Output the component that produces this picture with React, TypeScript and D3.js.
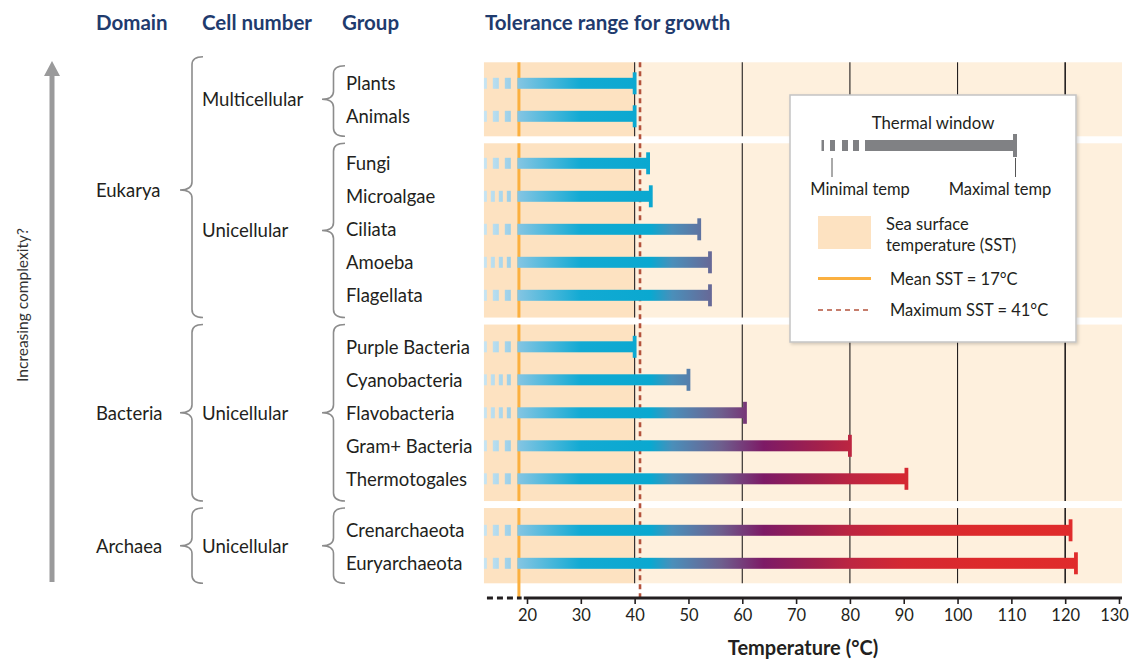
import React, { useEffect, useRef } from "react";
import * as d3 from "d3";

// ---------- DATA ----------
const groups = [
  "Plants", "Animals", "Fungi", "Microalgae", "Ciliata", "Amoeba", "Flagellata",
  "Purple Bacteria", "Cyanobacteria", "Flavobacteria", "Gram+ Bacteria", "Thermotogales",
  "Crenarchaeota", "Euryarchaeota",
];
const maxTemps = [40, 40, 42.5, 43, 52, 54, 54, 40, 50, 60.5, 80, 90.5, 121, 122];
const dashCounts = [3, 3, 3, 4, 3, 4, 3, 3, 4, 4, 3, 3, 3, 3];
const rowBand = [0, 0, 1, 1, 1, 1, 1, 2, 2, 2, 2, 2, 3, 3];
const bandCell = ["Multicellular", "Unicellular", "Unicellular", "Unicellular"];
const bandDomain = [0, 0, 1, 2];
const domains = ["Eukarya", "Bacteria", "Archaea"];
const headers = ["Domain", "Cell number", "Group", "Tolerance range for growth"];
const xTicks = [20, 30, 40, 50, 60, 70, 80, 90, 100, 110, 120, 130];
const gridTemps = [40, 60, 80, 100, 120];
const sstUpper = 40; // shaded SST zone upper bound
const meanSST = 17;
const meanSSTPlotted = 18.5; // axis is broken below 20
const maxSST = 41;
const brokenStart = 12; // left edge of the broken axis region
const solidStart = 18.2;

// ---------- LAYOUT ----------
const W = 1129, H = 661;
const FONT = "Lato, 'Open Sans', sans-serif";
const x = d3.scaleLinear().domain([20, 130]).range([527, 1119]);
const plotLeft = x(brokenStart);
const plotRight = 1122;
const axisY = 598;

const y0 = 83.3, step = 33, cellGap = 14, domainGap = 18.5;
const rowY: number[] = [];
{
  let acc = y0;
  groups.forEach((_, i) => {
    if (i > 0) {
      acc += step;
      if (rowBand[i] !== rowBand[i - 1]) {
        acc += bandDomain[rowBand[i]] !== bandDomain[rowBand[i - 1]] ? domainGap : cellGap;
      }
    }
    rowY.push(acc);
  });
}
const nBands = bandCell.length;
const bandRows = d3.range(nBands).map((b) => d3.range(groups.length).filter((i) => rowBand[i] === b));
const bands = bandRows.map((rows, b) => {
  const first = rowY[rows[0]], last = rowY[rows[rows.length - 1]];
  const top = b === 0 ? first - 21 : (rowY[bandRows[b - 1][bandRows[b - 1].length - 1]] + first) / 2 + 3.5;
  const bottom = b === nBands - 1 ? last + 20 : (last + rowY[bandRows[b + 1][0]]) / 2 - 3.5;
  return { top, bottom, mid: (top + bottom) / 2 };
});

const gradStops: [number, string][] = [
  [12, "#c8e5f3"], [18.0, "#92cbe6"], [18.3, "#84c5e3"], [30, "#12aad3"], [43, "#0aa8d0"],
  [47, "#4a8fba"], [56, "#6e5f8e"], [64, "#7d1a66"], [74, "#a2204c"], [80, "#bc2541"],
  [90, "#d42832"], [105, "#dd2a2b"], [130, "#e12c2c"],
];

function bracePath(xEnd: number, xSpine: number, xTip: number, top: number, bot: number, mid: number) {
  const r = 8;
  return `M${xEnd},${top} Q${xSpine},${top} ${xSpine},${top + r} L${xSpine},${mid - r} Q${xSpine},${mid} ${xTip},${mid} Q${xSpine},${mid} ${xSpine},${mid + r} L${xSpine},${bot - r} Q${xSpine},${bot} ${xEnd},${bot}`;
}

function dashes(n: number) {
  const end = x(solidStart) - 6.5;
  const p = n === 3 ? 12 : 8;
  const len = n === 3 ? 6 : 4;
  return d3.range(n).map((k) => {
    const e = end - (n - 1 - k) * p;
    const s = Math.max(plotLeft, e - len);
    return [s, e];
  });
}

export default function App() {
  const axisRef = useRef<SVGGElement>(null);
  useEffect(() => {
    if (!axisRef.current) return;
    const g = d3.select(axisRef.current);
    g.call(d3.axisBottom(x).tickValues(xTicks).tickSize(6).tickSizeOuter(0).tickPadding(5).tickFormat(d3.format("d")) as any);
    g.select(".domain").remove();
    g.selectAll(".tick line").attr("stroke", "#231f20").attr("stroke-width", 1.6);
    g.selectAll(".tick text").attr("fill", "#231f20").style("font-size", "16.5px").style("font-family", FONT);
    g.selectAll<SVGTextElement, number>(".tick text").filter((d) => d === xTicks[xTicks.length - 1]).attr("dx", -5);
  }, []);

  const gTop = bands[0].top;
  const textCol = "#231f20";
  const headCol = "#1f3b6e";
  const braceCol = "#8c8c8c";
  const headerX = [96, 202, 342, 485];

  return (
    <svg width={W} height={H} style={{ position: "absolute", left: 0, top: 0, background: "#fff" }} fontFamily={FONT}>
      <defs>
        <linearGradient id="barGrad" gradientUnits="userSpaceOnUse" x1={plotLeft} x2={plotRight} y1={0} y2={0}>
          {gradStops.map(([t, c], i) => (
            <stop key={i} offset={(x(t) - plotLeft) / (plotRight - plotLeft)} stopColor={c} />
          ))}
        </linearGradient>
        <filter id="shadow" x="-5%" y="-5%" width="115%" height="115%">
          <feDropShadow dx={1.5} dy={1.5} stdDeviation={1.5} floodColor="#000" floodOpacity={0.18} />
        </filter>
      </defs>

      {/* headers */}
      {headers.map((h, i) => (
        <text key={h} x={headerX[i]} y={29.5} fontWeight={700} fontSize={20.5} fill={headCol}>{h}</text>
      ))}

      {/* complexity arrow */}
      <line x1={52} x2={52} y1={74} y2={582} stroke="#9a9a9b" strokeWidth={5} />
      <path d="M52,61 L60,76 L44,76 Z" fill="#9a9a9b" />
      <text transform="translate(22,305) rotate(-90)" textAnchor="middle" fontSize={15.5} fill="#333" dominantBaseline="central">Increasing complexity?</text>

      {/* bands */}
      {bands.map((b, i) => (
        <g key={i}>
          <rect x={plotLeft} y={b.top} width={x(sstUpper) - plotLeft} height={b.bottom - b.top} fill="#fde2c1" />
          <rect x={x(sstUpper)} y={b.top} width={plotRight - x(sstUpper)} height={b.bottom - b.top} fill="#fef0dd" />
          {gridTemps.map((t) => (
            <line key={t} x1={x(t)} x2={x(t)} y1={b.top} y2={b.bottom} stroke="#231f20" strokeWidth={t === 120 ? 1.6 : 1.1} />
          ))}
          <line x1={x(meanSSTPlotted)} x2={x(meanSSTPlotted)} y1={b.top} y2={i === nBands - 1 ? axisY : b.bottom} stroke="#fbb040" strokeWidth={3} />
        </g>
      ))}
      <line x1={x(maxSST)} x2={x(maxSST)} y1={gTop} y2={axisY} stroke="#b4533c" strokeWidth={2.6} strokeDasharray="5 4" />

      {/* bars */}
      {groups.map((g, i) => {
        const yc = rowY[i];
        const xe = x(maxTemps[i]);
        return (
          <g key={g}>
            {dashes(dashCounts[i]).map(([s, e], k) => (
              <rect key={k} x={s} y={yc - 5.5} width={e - s} height={11} fill="url(#barGrad)" />
            ))}
            <rect x={x(solidStart)} y={yc - 5.5} width={xe - x(solidStart)} height={11} fill="url(#barGrad)" />
            <rect x={xe - 1.9} y={yc - 11} width={3.8} height={22} fill="url(#barGrad)" />
          </g>
        );
      })}

      {/* axis */}
      <line x1={plotLeft + 3} x2={x(19)} y1={axisY} y2={axisY} stroke="#231f20" strokeWidth={3} strokeDasharray="6 4" />
      <line x1={x(19.4)} x2={plotRight} y1={axisY} y2={axisY} stroke="#231f20" strokeWidth={3} />
      <g ref={axisRef} transform={`translate(0,${axisY})`} />
      <text x={803} y={655} textAnchor="middle" fontWeight={700} fontSize={20} fill={textCol}>Temperature (°C)</text>

      {/* group labels */}
      {groups.map((g, i) => (
        <text key={g} x={346} y={rowY[i]} dominantBaseline="central" fontSize={18.5} fill={textCol}>{g}</text>
      ))}

      {/* cell number braces + labels */}
      {bands.map((b, i) => (
        <g key={i}>
          <path d={bracePath(345, 333.5, 322, i === 0 ? b.top + 3.5 : b.top, b.bottom, b.mid)} fill="none" stroke={braceCol} strokeWidth={1.6} />
          <text x={202} y={b.mid} dominantBaseline="central" fontSize={18.6} fill={textCol}>{bandCell[i]}</text>
        </g>
      ))}

      {/* domain braces + labels */}
      {domains.map((d, di) => {
        const bs = bands.filter((_, bi) => bandDomain[bi] === di);
        const top = di === 0 ? bs[0].top - 5.5 : bs[0].top;
        const bot = bs[bs.length - 1].bottom;
        const mid = di === 0 ? (bs[0].top + bot) / 2 : (top + bot) / 2;
        return (
          <g key={d}>
            <path d={bracePath(203, 192, 180, top, bot, mid)} fill="none" stroke={braceCol} strokeWidth={1.6} />
            <text x={96} y={mid} dominantBaseline="central" fontSize={18.5} fill={textCol}>{d}</text>
          </g>
        );
      })}

      {/* legend */}
      <g>
        <rect x={790} y={95} width={286} height={247} fill="#fff" stroke="#c4c4c4" strokeWidth={1.5} filter="url(#shadow)" />
        <text x={933} y={129} textAnchor="middle" fontSize={16.8} fill={textCol}>Thermal window</text>
        {[[821.5, 824], [830, 835], [842, 848], [853, 859]].map(([s, e], k) => (
          <rect key={k} x={s} y={140} width={e - s} height={11} fill="#808184" />
        ))}
        <rect x={865} y={140} width={150} height={11} fill="#808184" />
        <rect x={1013} y={134} width={4} height={23} fill="#808184" />
        <line x1={832} x2={832} y1={158} y2={177} stroke="#555" strokeWidth={1} />
        <line x1={1015.5} x2={1015.5} y1={158} y2={177} stroke="#555" strokeWidth={1} />
        <text x={860} y={195} textAnchor="middle" fontSize={16.5} fill={textCol}>Minimal temp</text>
        <text x={1000} y={195} textAnchor="middle" fontSize={16.5} fill={textCol}>Maximal temp</text>
        <rect x={818} y={216} width={53} height={33} fill="#fde2c1" />
        <text x={886} y={230} fontSize={16.5} fill={textCol}>Sea surface</text>
        <text x={886} y={251} fontSize={16.5} fill={textCol}>temperature (SST)</text>
        <line x1={818} x2={871} y1={278.5} y2={278.5} stroke="#fbb040" strokeWidth={3} />
        <text x={890} y={284.5} fontSize={16.5} fill={textCol}>{`Mean SST = ${meanSST}°C`}</text>
        <line x1={818} x2={871} y1={310} y2={310} stroke="#b4533c" strokeWidth={1.5} strokeDasharray="5 4" />
        <text x={890} y={316} fontSize={16.5} fill={textCol}>{`Maximum SST = ${maxSST}°C`}</text>
      </g>
    </svg>
  );
}
